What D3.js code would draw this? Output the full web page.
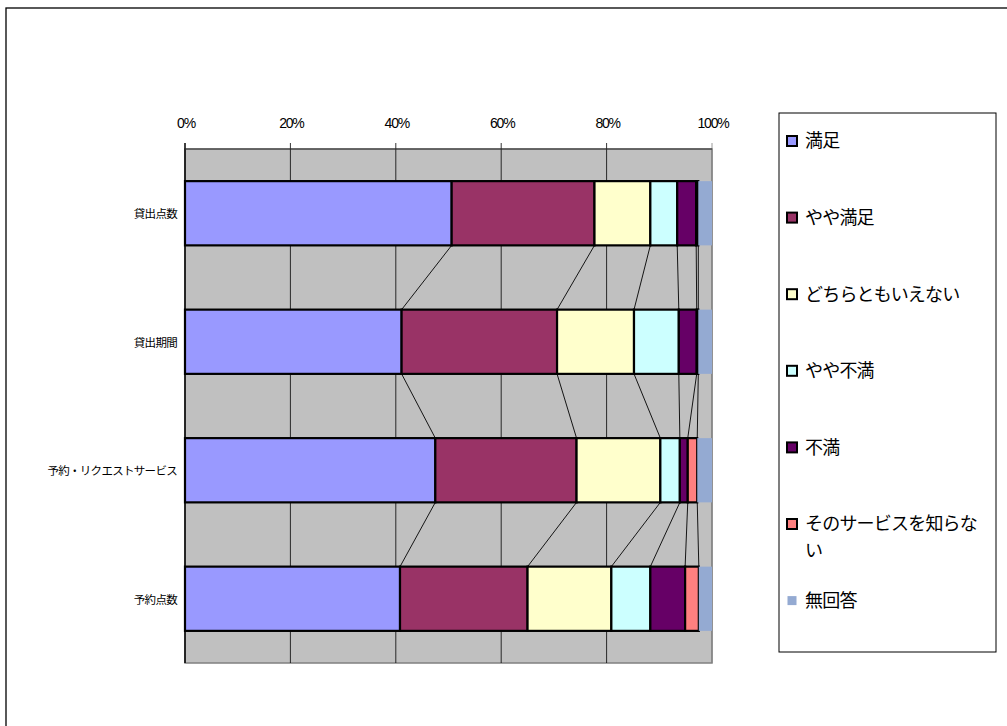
<!DOCTYPE html>
<html>
<head>
<meta charset="utf-8">
<script src="https://d3js.org/d3.v7.min.js"></script>
<style>
  body { margin: 0; background: #fff; }
  text { font-family: "Noto Sans CJK JP", "Noto Sans", sans-serif; fill: #000; }
</style>
</head>
<body>
<svg id="chart" width="1007" height="726"></svg>
<script>
// categories (top to bottom)
const categories = ["貸出点数", "貸出期間", "予約・リクエストサービス", "予約点数"];

// series, percent per category
const seriesNames = ["満足", "やや満足", "どちらともいえない", "やや不満", "不満", "そのサービスを知らない", "無回答"];
const manzoku      = [50.6, 41.1, 47.5, 40.8];
const yayaManzoku  = [27.1, 29.5, 26.8, 24.2];
const dochiramo    = [10.6, 14.6, 15.9, 15.9];
const yayaFuman    = [5.1, 8.5, 3.7, 7.4];
const fuman        = [3.6, 3.4, 1.5, 6.6];
const shiranai     = [0.4, 0.3, 1.8, 2.6];
const mukaitou     = [2.6, 2.6, 2.8, 2.5];

const colors = ["#9999ff", "#993366", "#ffffcc", "#ccffff", "#660066", "#ff8080", "#94aad2"];
const tickValues = [0, 20, 40, 60, 80, 100];

const seriesValues = [manzoku, yayaManzoku, dochiramo, yayaFuman, fuman, shiranai, mukaitou];

const svg = d3.select("#chart");
const plot = {left: 185, right: 712, top: 149, bottom: 663};

// outer frame (runs off the page on right and bottom)
svg.append("rect")
    .attr("x", 6).attr("y", 8)
    .attr("width", 1200).attr("height", 900)
    .attr("fill", "none").attr("stroke", "#000").attr("stroke-width", 1.3);

const x = d3.scaleLinear().domain([0, 100]).range([plot.left, plot.right]);
const y = d3.scaleBand().domain(categories).range([plot.top, plot.bottom])
    .paddingInner(0.5).paddingOuter(0.25);

// stacked table
const table = categories.map((c, i) => {
    const row = {cat: c};
    seriesNames.forEach((s, k) => row[s] = seriesValues[k][i]);
    return row;
});
const stacked = d3.stack().keys(seriesNames)(table);

// plot background
svg.append("rect")
    .attr("x", plot.left).attr("y", plot.top)
    .attr("width", plot.right - plot.left).attr("height", plot.bottom - plot.top)
    .attr("fill", "#c0c0c0").attr("stroke", "#808080").attr("stroke-width", 1.5);

// gridlines
svg.append("g").attr("class", "grid")
    .selectAll("line").data(tickValues).join("line")
    .attr("x1", d => x(d)).attr("x2", d => x(d))
    .attr("y1", plot.top - 6).attr("y2", plot.bottom)
    .attr("stroke", d => d === 100 ? "#808080" : "#000")
    .attr("stroke-width", d => d === 0 ? 1.5 : 0.8);

// top axis line
svg.append("line")
    .attr("x1", plot.left).attr("x2", plot.right)
    .attr("y1", plot.top).attr("y2", plot.top)
    .attr("stroke", "#333").attr("stroke-width", 1.2);

// tick labels
svg.append("g").selectAll("text").data(tickValues).join("text")
    .attr("x", d => x(d) + 1).attr("y", 128)
    .attr("text-anchor", "middle")
    .style("font-family", "'Liberation Sans', Arial, sans-serif")
    .style("font-size", "14px")
    .style("letter-spacing", "-1.2px")
    .text(d => d + "%");

// series lines between bars
const connectors = [];
stacked.slice(0, -1).forEach(layer => {
    for (let i = 0; i < categories.length - 1; i++) {
        connectors.push({
            x1: x(layer[i][1]), y1: y(categories[i]) + y.bandwidth(),
            x2: x(layer[i + 1][1]), y2: y(categories[i + 1])
        });
    }
});
svg.append("g").selectAll("line").data(connectors).join("line")
    .attr("x1", d => d.x1).attr("y1", d => d.y1)
    .attr("x2", d => d.x2).attr("y2", d => d.y2)
    .attr("stroke", "#000").attr("stroke-width", 0.9);

// bars
const layers = svg.append("g").selectAll("g").data(stacked).join("g")
    .attr("fill", (d, k) => colors[k]);

layers.selectAll("rect")
    .data(d => d.map((v, i) => ({v: v, cat: categories[i], key: d.key})))
    .join("rect")
    .attr("x", d => x(d.v[0]))
    .attr("y", d => y(d.cat))
    .attr("width", d => x(d.v[1]) - x(d.v[0]))
    .attr("height", y.bandwidth())
    .attr("stroke", d => d.key === "無回答" ? "none" : "#000")
    .attr("stroke-width", 2.2);

// category labels
svg.append("g").selectAll("text").data(categories).join("text")
    .attr("x", 177)
    .attr("y", d => y(d) + y.bandwidth() / 2)
    .attr("text-anchor", "end")
    .attr("dominant-baseline", "central")
    .style("font-size", "11.5px")
    .style("letter-spacing", "-0.7px")
    .text(d => d);

// legend
svg.append("rect")
    .attr("x", 779).attr("y", 113)
    .attr("width", 217).attr("height", 539)
    .attr("fill", "#fff").attr("stroke", "#000").attr("stroke-width", 1);

const legendRows = ["満足", "やや満足", "どちらともいえない", "やや不満", "不満", "そのサービスを知らな\nい", "無回答"];
const lg = svg.append("g").selectAll("g").data(legendRows).join("g")
    .attr("transform", (d, i) => `translate(787,${141 + i * 76.6})`);

lg.append("rect")
    .attr("x", (d, i) => i === 6 ? 0.5 : 0)
    .attr("y", (d, i) => i === 6 ? -4.5 : -5)
    .attr("width", (d, i) => i === 6 ? 9 : 10)
    .attr("height", (d, i) => i === 6 ? 9 : 10)
    .attr("fill", (d, i) => colors[i])
    .attr("stroke", (d, i) => i === 6 ? "none" : "#000")
    .attr("stroke-width", 2);

lg.append("text")
    .attr("x", 18)
    .attr("y", 0)
    .style("font-size", "18px")
    .style("letter-spacing", "-0.8px")
    .selectAll("tspan").data(d => d.split("\n")).join("tspan")
    .attr("x", 18)
    .attr("dy", (d, j) => j === 0 ? "0.36em" : "1.45em")
    .text(d => d);
</script>
</body>
</html>
